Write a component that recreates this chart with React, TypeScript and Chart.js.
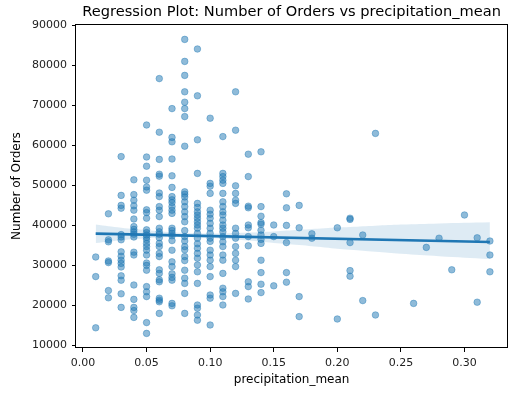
import React, { useEffect, useRef } from "react";
import { Chart, registerables } from "chart.js";

Chart.register(...registerables);

// ---- data ----
const ord01 = [32000, 27100, 14300];
const ord02 = [42800, 36300, 35800, 31000, 30600, 23600, 21800];
const ord03 = [57100, 47400, 44900, 44200, 37600, 37000, 36300, 33300, 32200, 31200, 30400, 29500, 27300, 26200, 22800, 19400];
const ord04 = [51300, 47600, 46200, 44800, 43700, 41500, 39600, 38900, 38300, 37700, 37000, 33200, 32500, 25000, 21400, 19400, 18600, 16900];
const ord05 = [65000, 57000, 54700, 51200, 49500, 48700, 43800, 43100, 41700, 38800, 38100, 37500, 36900, 36300, 35400, 34600, 33700, 32500, 30500, 29900, 28700, 24600, 23300, 22100, 15600, 12900];
const ord06 = [76600, 63200, 56400, 52700, 52200, 48000, 47100, 44600, 43700, 42100, 39200, 38300, 37700, 36800, 35400, 34600, 32900, 32100, 28800, 27900, 26300, 25800, 21700, 21200, 20800, 17900];
const ord07 = [69100, 61900, 60800, 56500, 52300, 49400, 47100, 46300, 45600, 44600, 43700, 42900, 39200, 38600, 37900, 37300, 36100, 33700, 30800, 29600, 27800, 26900, 26200, 20400, 19800];
const ord08 = [86400, 80900, 77400, 73300, 70700, 69100, 67100, 59700, 48300, 47700, 47000, 45800, 44600, 43300, 42100, 40800, 38600, 37100, 36000, 34600, 33800, 32100, 31100, 28700, 26700, 25400, 22900, 17900];
const ord09 = [84000, 72300, 61300, 52900, 45400, 44400, 43300, 42500, 41700, 40800, 40000, 39200, 37900, 36700, 35300, 34200, 32900, 31700, 30000, 28300, 25400, 20000, 19200, 17500, 16200];
const ord10 = [66700, 50400, 49700, 47900, 43700, 42700, 41700, 40400, 39200, 37900, 36700, 35900, 33700, 32500, 31200, 29600, 27100, 22500, 21700, 15000];
const ord11 = [62100, 52900, 52100, 51200, 50400, 47900, 45800, 44600, 43300, 42500, 41200, 40000, 39200, 38300, 37100, 35800, 34600, 32500, 31200, 27900, 24200, 23300, 22100, 20000];
const ord12 = [73300, 63700, 49800, 47900, 46200, 45400, 39200, 37900, 36700, 34600, 32900, 31200, 29600, 22900];
const ord13 = [57700, 52100, 44700, 44300, 40000, 39300, 37100, 34800, 25800, 24600, 21500];
const ord14 = [58300, 44600, 42200, 40600, 40200, 38700, 37500, 36400, 35400, 31200, 28100, 25200, 23100];
const ord15 = [40000, 37100, 24800];
const ord16 = [47800, 44300, 39900, 35600, 28100, 25700];
const ord17 = [44900, 39300, 22100, 17100];
const ord18 = [37800, 36700];
const ord20 = [39300, 16500];
const ord21 = [41700, 41400, 35600, 28600, 27200];
const ord22 = [37500, 21100];
const ord23 = [62900, 17500];
const ord26 = [20400];
const ord27 = [34400];
const ord28 = [36700];
const ord29 = [28800];
const ord30 = [42500];
const ord31 = [36800, 20700];
const ord32 = [36000, 32500, 28300];

const precipLevels = [0.01, 0.02, 0.03, 0.04, 0.05, 0.06, 0.07, 0.08, 0.09, 0.1, 0.11, 0.12, 0.13, 0.14, 0.15, 0.16, 0.17, 0.18, 0.2, 0.21, 0.22, 0.23, 0.26, 0.27, 0.28, 0.29, 0.3, 0.31, 0.32];
const ordersByLevel = [ord01, ord02, ord03, ord04, ord05, ord06, ord07, ord08, ord09, ord10, ord11, ord12, ord13, ord14, ord15, ord16, ord17, ord18, ord20, ord21, ord22, ord23, ord26, ord27, ord28, ord29, ord30, ord31, ord32];

// regression line and confidence band
const fitX = [0.01, 0.32];
const fitY = [37850, 35750];
const bandX = [0.01, 0.03, 0.05, 0.07, 0.09, 0.11, 0.13, 0.15, 0.17, 0.19, 0.21, 0.23, 0.25, 0.28, 0.32];
const bandLower = [35500, 36200, 36700, 37000, 36900, 36600, 36100, 35500, 35000, 34400, 33800, 33300, 32800, 32200, 31500];
const bandUpper = [40100, 39300, 38700, 38200, 37900, 37900, 38100, 38400, 38800, 39200, 39500, 39800, 40100, 40400, 40700];

const xTicks = [0, 0.05, 0.1, 0.15, 0.2, 0.25, 0.3];
const yTicks = [10000, 20000, 30000, 40000, 50000, 60000, 70000, 80000, 90000];

const titleText = "Regression Plot: Number of Orders vs precipitation_mean";
const xLabel = "precipitation_mean";
const yLabel = "Number of Orders";

const FONT = "'DejaVu Sans', sans-serif";
const BLUE = "31,119,180";

export default function App() {
  const ref = useRef<HTMLCanvasElement>(null);

  useEffect(() => {
    document.body.style.margin = "0";
    const canvas = ref.current;
    if (!canvas) return;

    const pts: { x: number; y: number }[] = [];
    precipLevels.forEach((p, i) => {
      ordersByLevel[i].forEach((v) => pts.push({ x: p, y: v }));
    });

    const textPlugin = {
      id: "mplText",
      afterDraw(chart: any) {
        const { ctx, chartArea: a } = chart;
        ctx.save();
        ctx.strokeStyle = "#000";
        ctx.lineWidth = 1;
        ctx.strokeRect(Math.round(a.left) - 0.5, Math.round(a.top) + 0.5, Math.round(a.right - a.left) + 1, Math.round(a.bottom - a.top) - 1);
        ctx.fillStyle = "#000";
        ctx.textAlign = "center";
        ctx.textBaseline = "middle";
        const cx = (a.left + a.right) / 2;
        ctx.font = `14.6px ${FONT}`;
        ctx.fillText(titleText, cx, 12);
        ctx.font = `12px ${FONT}`;
        ctx.fillText(xLabel, cx, 380);
        ctx.translate(17, (a.top + a.bottom) / 2);
        ctx.rotate(-Math.PI / 2);
        ctx.fillText(yLabel, 0, 0);
        ctx.restore();
      },
    };

    const tickFont = { size: 11, family: FONT };

    const chart = new Chart(canvas, {
      type: "scatter",
      data: {
        datasets: [
          {
            type: "line",
            label: "fit",
            data: fitX.map((x, i) => ({ x, y: fitY[i] })),
            borderColor: `rgb(${BLUE})`,
            borderWidth: 2.6,
            pointRadius: 0,
            fill: false,
            order: 1,
          } as any,
          {
            type: "line",
            label: "ciLow",
            data: bandX.map((x, i) => ({ x, y: bandLower[i] })),
            borderWidth: 0,
            borderColor: "rgba(0,0,0,0)",
            pointRadius: 0,
            tension: 0.4,
            fill: false,
            order: 2,
          } as any,
          {
            type: "line",
            label: "ciHigh",
            data: bandX.map((x, i) => ({ x, y: bandUpper[i] })),
            borderWidth: 0,
            borderColor: "rgba(0,0,0,0)",
            pointRadius: 0,
            tension: 0.4,
            fill: 1,
            backgroundColor: `rgba(${BLUE},0.15)`,
            order: 2,
          } as any,
          {
            type: "scatter",
            label: "orders",
            data: pts,
            backgroundColor: `rgba(${BLUE},0.5)`,
            borderColor: `rgba(${BLUE},0.5)`,
            borderWidth: 0.8,
            pointRadius: 3.3,
            order: 3,
          } as any,
        ],
      },
      options: {
        animation: false,
        responsive: false,
        events: [],
        layout: { padding: { top: 24, right: 2, left: 0, bottom: 0 } },
        plugins: {
          legend: { display: false },
          tooltip: { enabled: false },
          title: { display: false },
        },
        scales: {
          x: {
            type: "linear",
            min: -0.0055,
            max: 0.3336,
            afterBuildTicks: (s: any) => {
              s.ticks = xTicks.map((v) => ({ value: v }));
            },
            afterFit: (s: any) => {
              s.height = 45;
            },
            ticks: {
              callback: (v: any) => Number(v).toFixed(2),
              font: tickFont,
              color: "#222",
              padding: 5,
              maxRotation: 0,
              autoSkip: false,
            },
            grid: { display: true, drawOnChartArea: false, drawTicks: true, tickLength: 4, color: "#000" },
            border: { display: false },
          },
          y: {
            type: "linear",
            min: 9250,
            max: 90250,
            afterBuildTicks: (s: any) => {
              s.ticks = yTicks.map((v) => ({ value: v }));
            },
            afterFit: (s: any) => {
              s.width = 76;
            },
            ticks: {
              callback: (v: any) => String(v),
              font: tickFont,
              color: "#222",
              padding: 5,
              autoSkip: false,
            },
            grid: { display: true, drawOnChartArea: false, drawTicks: true, tickLength: 4, color: "#000" },
            border: { display: false },
          },
        },
      } as any,
      plugins: [textPlugin],
    });

    return () => chart.destroy();
  }, []);

  return (
    <div style={{ position: "absolute", left: 0, top: 0, width: 512, height: 393, background: "#fff" }}>
      <canvas ref={ref} width={512} height={393} style={{ width: 512, height: 393, display: "block" }} />
    </div>
  );
}
